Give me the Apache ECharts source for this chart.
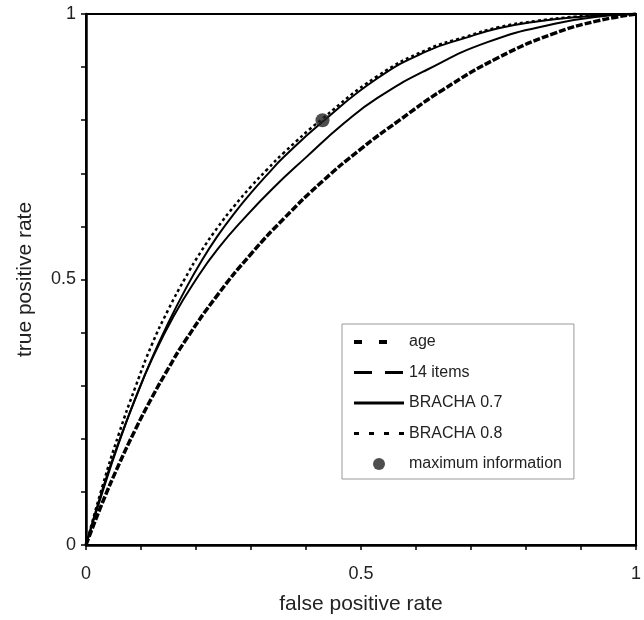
<!DOCTYPE html>
<html>
<head>
<meta charset="utf-8">
<script src="https://cdn.jsdelivr.net/npm/echarts@6/dist/echarts.min.js"></script>
<style>
  html, body { margin: 0; padding: 0; background: #fff; }
  #chart { width: 644px; height: 620px; }
</style>
</head>
<body>
<div id="chart"></div>
<script>
// ---- data ----
const seriesNames = ['age', '14 items', 'BRACHA 0.7', 'BRACHA 0.8', 'maximum information'];

const ageFpr = [0, 0.03, 0.06, 0.09, 0.12, 0.15, 0.18, 0.24, 0.30, 0.36, 0.43, 0.50, 0.57, 0.65, 0.75, 0.85, 0.93, 1];
const ageTpr = [0, 0.08, 0.152, 0.218, 0.278, 0.333, 0.384, 0.472, 0.548, 0.615, 0.685, 0.746, 0.80, 0.858, 0.918, 0.963, 0.987, 1];

const items14Fpr = [0, 0.03, 0.06, 0.09, 0.12, 0.16, 0.20, 0.24, 0.29, 0.34, 0.40, 0.47, 0.53, 0.62, 0.73, 0.85, 0.95, 1];
const items14Tpr = [0, 0.10, 0.193, 0.277, 0.35, 0.432, 0.50, 0.558, 0.618, 0.672, 0.73, 0.795, 0.842, 0.895, 0.947, 0.981, 0.997, 1];

const bracha07Fpr = [0, 0.03, 0.06, 0.09, 0.12, 0.15, 0.18, 0.21, 0.24, 0.27, 0.30, 0.33, 0.36, 0.43, 0.53, 0.62, 0.69, 0.75, 0.82, 0.89, 0.95, 1];
const bracha07Tpr = [0, 0.105, 0.195, 0.276, 0.352, 0.419, 0.48, 0.535, 0.583, 0.625, 0.663, 0.698, 0.731, 0.797, 0.879, 0.93, 0.955, 0.973, 0.986, 0.994, 0.998, 1];

const bracha08Fpr = [0, 0.03, 0.06, 0.09, 0.12, 0.15, 0.18, 0.21, 0.24, 0.27, 0.30, 0.33, 0.36, 0.43, 0.53, 0.62, 0.69, 0.75, 0.82, 0.89, 0.95, 1];
const bracha08Tpr = [0, 0.111, 0.21, 0.298, 0.378, 0.444, 0.502, 0.554, 0.599, 0.639, 0.675, 0.708, 0.739, 0.803, 0.883, 0.933, 0.957, 0.975, 0.987, 0.995, 0.999, 1];

const maxInfoPoint = [0.43, 0.80];

const axisTickLabels = { 0: '0', 0.5: '0.5', 1: '1' };

function pairs(xs, ys) { return xs.map((x, i) => [x, ys[i]]); }

const chart = echarts.init(document.getElementById('chart'), null, { renderer: 'canvas' });

const FONT = 'Liberation Sans, Arial, sans-serif';

function lbl(v) {
  const k = Math.round(v * 10) / 10;
  return axisTickLabels[k] !== undefined ? axisTickLabels[k] : '';
}

const hiddenSymbol = { color: 'transparent', borderColor: 'transparent', opacity: 0 };

chart.setOption({
  animation: false,
  backgroundColor: '#fff',
  color: ['#000', '#000', '#000', '#000', '#222'],
  grid: {
    left: 86, right: 7, top: 14, bottom: 72,
    show: true, borderColor: '#000', borderWidth: 2, backgroundColor: 'transparent'
  },
  xAxis: {
    type: 'value', min: 0, max: 1, interval: 0.1,
    name: 'false positive rate', nameLocation: 'middle', nameGap: 49,
    nameTextStyle: { fontFamily: FONT, fontSize: 21, color: '#222' },
    axisLine: { show: true, lineStyle: { color: '#000', width: 2.5 } },
    axisTick: { show: true, length: 5, lineStyle: { color: '#000', width: 1.5 } },
    axisLabel: { formatter: lbl, fontFamily: FONT, fontSize: 18, color: '#222', margin: 20, showMinLabel: true, showMaxLabel: true },
    splitLine: { show: false }
  },
  yAxis: {
    type: 'value', min: 0, max: 1, interval: 0.1,
    name: 'true positive rate', nameLocation: 'middle', nameGap: 50, nameRotate: 90,
    nameTextStyle: { fontFamily: FONT, fontSize: 21, color: '#222' },
    axisLine: { show: true, lineStyle: { color: '#000', width: 2.5 } },
    axisTick: { show: true, length: 5, lineStyle: { color: '#000', width: 1.5 } },
    axisLabel: { formatter: lbl, fontFamily: FONT, fontSize: 18, color: '#222', margin: 10, showMinLabel: true, showMaxLabel: true },
    splitLine: { show: false }
  },
  legend: {
    orient: 'vertical', left: 342, top: 324,
    padding: [10, 12, 7, 10],
    itemWidth: 50, itemHeight: 12, itemGap: 14.5,
    borderColor: '#999', borderWidth: 1,
    textStyle: { fontFamily: FONT, fontSize: 16, color: '#222' },
    data: [
      { name: seriesNames[0], itemStyle: hiddenSymbol, lineStyle: { type: [8, 17], width: 4, color: '#000' } },
      { name: seriesNames[1], itemStyle: hiddenSymbol, lineStyle: { type: [18, 13], width: 3, color: '#000' } },
      { name: seriesNames[2], itemStyle: hiddenSymbol, lineStyle: { type: 'solid', width: 3, color: '#000' } },
      { name: seriesNames[3], itemStyle: hiddenSymbol, lineStyle: { type: [5, 10], width: 3, color: '#000' } },
      { name: seriesNames[4], icon: 'circle', itemStyle: { color: '#222' } }
    ]
  },
  series: [
    {
      name: seriesNames[0], type: 'line', smooth: 0.5, symbol: 'none',
      data: pairs(ageFpr, ageTpr), itemStyle: { color: '#000' },
      lineStyle: { color: '#000', width: 3.5, type: [7, 2] }, z: 3
    },
    {
      name: seriesNames[1], type: 'line', smooth: 0.5, symbol: 'none',
      data: pairs(items14Fpr, items14Tpr), itemStyle: { color: '#000' },
      lineStyle: { color: '#000', width: 2, type: 'solid' }, z: 3
    },
    {
      name: seriesNames[2], type: 'line', smooth: 0.5, symbol: 'none',
      data: pairs(bracha07Fpr, bracha07Tpr), itemStyle: { color: '#000' },
      lineStyle: { color: '#000', width: 2, type: 'solid' }, z: 3
    },
    {
      name: seriesNames[3], type: 'line', smooth: 0.5, symbol: 'none',
      data: pairs(bracha08Fpr, bracha08Tpr), itemStyle: { color: '#000' },
      lineStyle: { color: '#000', width: 2.5, type: [3, 3] }, z: 3
    },
    {
      name: seriesNames[4], type: 'scatter', symbol: 'circle', symbolSize: 14,
      symbolKeepAspect: true,
      data: [maxInfoPoint],
      itemStyle: { color: '#222' }, z: 5
    }
  ]
});
</script>
</body>
</html>
